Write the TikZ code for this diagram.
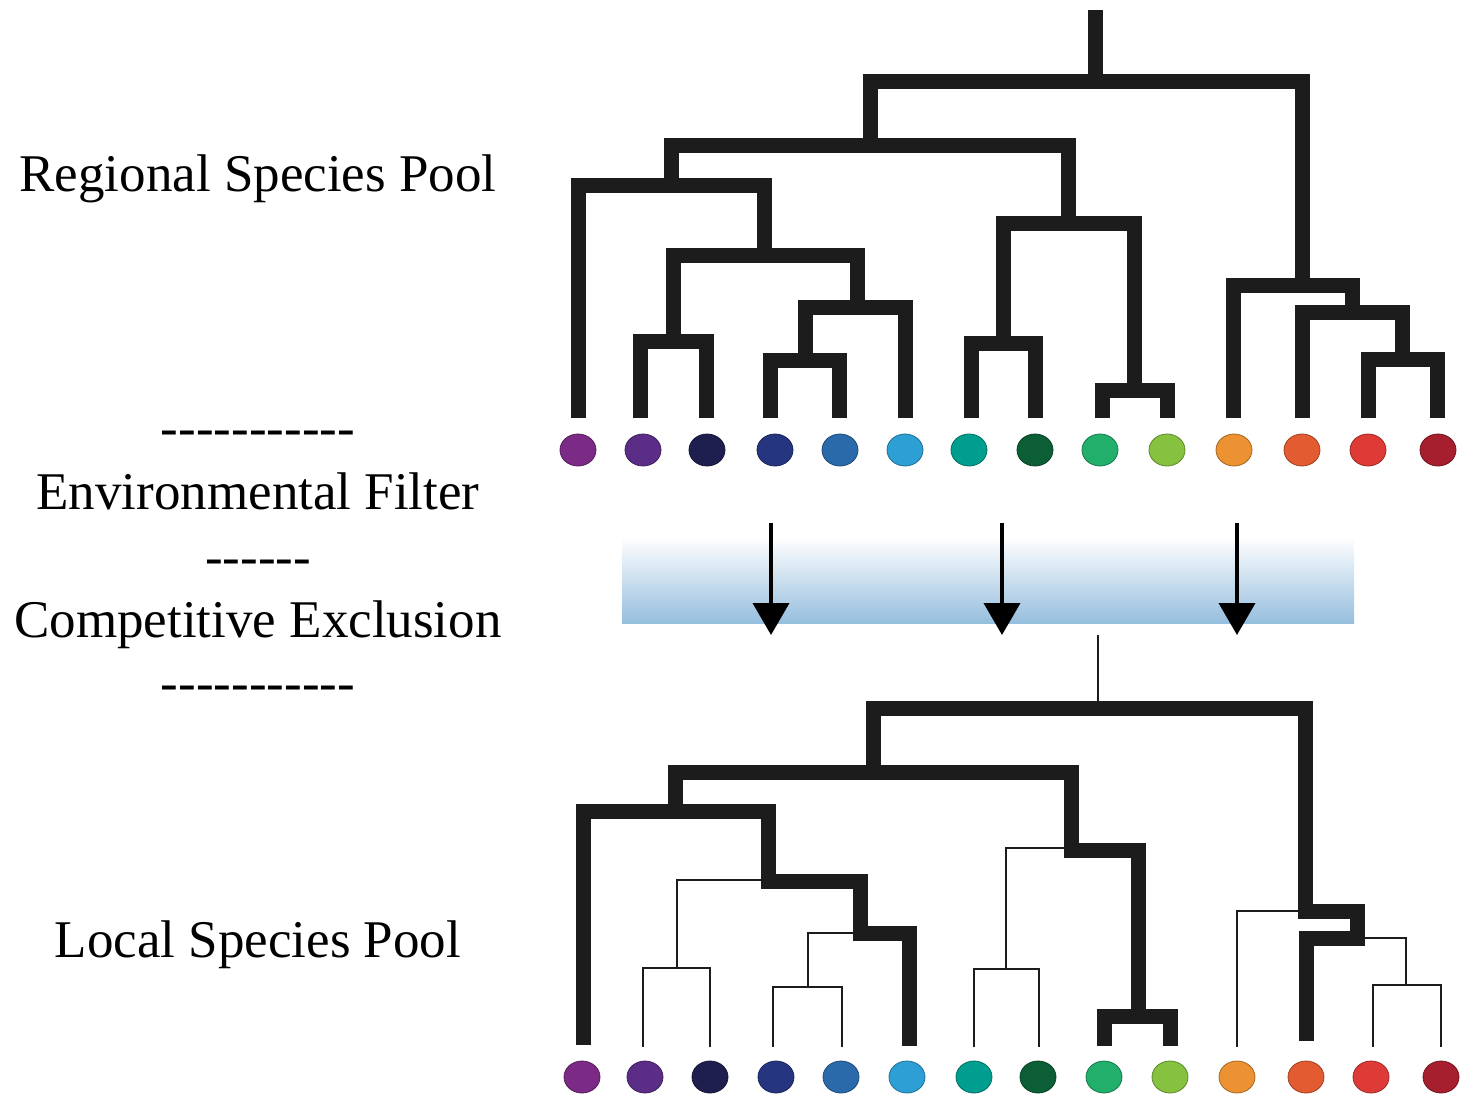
\documentclass[tikz,border=0pt]{standalone}
\usepackage{fontspec}
\setmainfont{Liberation Serif}
\newfontfamily\dashfont{Liberation Serif}[Ligatures=TeXOff]
\usetikzlibrary{arrows.meta,shapes.geometric}
\definecolor{c1}{RGB}{123,42,133}
\definecolor{c2}{RGB}{91,45,134}
\definecolor{c3}{RGB}{31,31,79}
\definecolor{c4}{RGB}{37,53,128}
\definecolor{c5}{RGB}{42,106,170}
\definecolor{c6}{RGB}{46,159,212}
\definecolor{c7}{RGB}{0,158,142}
\definecolor{c8}{RGB}{11,94,53}
\definecolor{c9}{RGB}{34,174,107}
\definecolor{c10}{RGB}{134,193,64}
\definecolor{c11}{RGB}{236,146,50}
\definecolor{c12}{RGB}{227,91,48}
\definecolor{c13}{RGB}{222,59,54}
\definecolor{c14}{RGB}{165,31,47}
\definecolor{treecol}{RGB}{28,28,28}
\definecolor{filterblue}{RGB}{150,190,222}
\tikzset{
  thickbr/.style={draw=treecol, line width=15pt, line join=miter, line cap=butt},
  thinbr/.style={draw=treecol, line width=1.8pt, line join=miter},
  leaf/.style={ellipse, minimum width=36pt, minimum height=32pt, inner sep=0pt, line width=0.8pt},
  label/.style={font=\fontsize{53}{60}\selectfont, anchor=base, inner sep=0pt},
  dashlabel/.style={font=\fontsize{53}{60}\selectfont\dashfont, anchor=base, inner sep=0pt},
  filterarrow/.style={draw=black, line width=4pt, -{Triangle[width=36pt,length=32pt]}},
}
\begin{document}
\begin{tikzpicture}[x=1pt,y=-1pt]
\useasboundingbox (0,0) rectangle (1460,1095);
\fill[white] (0,0) rectangle (1460,1095);

% labels
\node[label] (regional) at (258,191) {Regional Species Pool};
\node[dashlabel] (dash1) at (258,445) {-----------};
\node[label] (envf) at (258,509) {Environmental Filter};
\node[dashlabel] (dash2) at (258,574) {------};
\node[label] (compex) at (258,637) {Competitive Exclusion};
\node[dashlabel] (dash3) at (258,700) {-----------};
\node[label] (local) at (258,957) {Local Species Pool};

% top tree
\draw[thickbr] (1095,10) -- (1095,81);
\draw[thickbr] (870,145) -- (870,81) -- (1302,81) -- (1302,285);
\draw[thickbr] (671,185) -- (671,145) -- (1068,145) -- (1068,223);
\draw[thickbr] (578,418) -- (578,185) -- (764,185) -- (764,255);
\draw[thickbr] (673,341) -- (673,255) -- (857,255) -- (857,307);
\draw[thickbr] (640,418) -- (640,341) -- (706,341) -- (706,418);
\draw[thickbr] (905,418) -- (905,307) -- (805,307) -- (805,360);
\draw[thickbr] (770,418) -- (770,360) -- (839,360) -- (839,418);
\draw[thickbr] (1003,343) -- (1003,223) -- (1134,223) -- (1134,390);
\draw[thickbr] (971,418) -- (971,343) -- (1035,343) -- (1035,418);
\draw[thickbr] (1102,418) -- (1102,390) -- (1167,390) -- (1167,418);
\draw[thickbr] (1233,418) -- (1233,285) -- (1352,285) -- (1352,312);
\draw[thickbr] (1302,418) -- (1302,312) -- (1402,312) -- (1402,359);
\draw[thickbr] (1368,418) -- (1368,359) -- (1437,359) -- (1437,418);

% top leaves
\foreach \x/\c [count=\i] in {578/c1,643/c2,707/c3,775/c4,840/c5,905/c6,969/c7,1035/c8,1100/c9,1167/c10,1234/c11,1302/c12,1368/c13,1438/c14}
  \node[leaf, fill=\c, draw=\c!70!black] (t\i) at (\x,450) {};

% filter band
\shade[top color=white, bottom color=filterblue] (622,537) rectangle (1354,623);
\coordinate (a1s) at (771,523); \coordinate (a1e) at (771,635);
\coordinate (a2s) at (1002,523); \coordinate (a2e) at (1002,635);
\coordinate (a3s) at (1237,523); \coordinate (a3e) at (1237,635);
\draw[filterarrow] (a1s) -- (a1e);
\draw[filterarrow] (a2s) -- (a2e);
\draw[filterarrow] (a3s) -- (a3e);

% bottom tree: thin branches
\draw[thinbr] (1098,635) -- (1098,708);
\draw[thinbr] (768,880) -- (677,880) -- (677,968);
\draw[thinbr] (643,1047) -- (643,968) -- (710,968) -- (710,1047);
\draw[thinbr] (860,933) -- (808,933) -- (808,987);
\draw[thinbr] (773,1047) -- (773,987) -- (842,987) -- (842,1047);
\draw[thinbr] (1071,848) -- (1006,848) -- (1006,969);
\draw[thinbr] (974,1047) -- (974,969) -- (1039,969) -- (1039,1047);
\draw[thinbr] (1305,911) -- (1237,911) -- (1237,1047);
\draw[thinbr] (1357,938) -- (1406,938) -- (1406,985);
\draw[thinbr] (1373,1047) -- (1373,985) -- (1441,985) -- (1441,1047);

% bottom tree: thick branches
\draw[thickbr] (873,772) -- (873,708) -- (1305,708) -- (1305,911) -- (1357,911) -- (1357,938) -- (1306,938) -- (1306,1041);
\draw[thickbr] (675,811) -- (675,772) -- (1071,772) -- (1071,850) -- (1138,850) -- (1138,1016);
\draw[thickbr] (583,1045) -- (583,811) -- (768,811) -- (768,881) -- (860,881) -- (860,933) -- (909,933) -- (909,1046);
\draw[thickbr] (1104,1046) -- (1104,1016) -- (1170,1016) -- (1170,1046);

% bottom leaves
\foreach \x/\c [count=\i] in {582/c1,645/c2,710/c3,776/c4,841/c5,907/c6,974/c7,1038/c8,1104/c9,1170/c10,1237/c11,1306/c12,1371/c13,1441/c14}
  \node[leaf, fill=\c, draw=\c!70!black] (b\i) at (\x,1077) {};
\end{tikzpicture}
\end{document}
